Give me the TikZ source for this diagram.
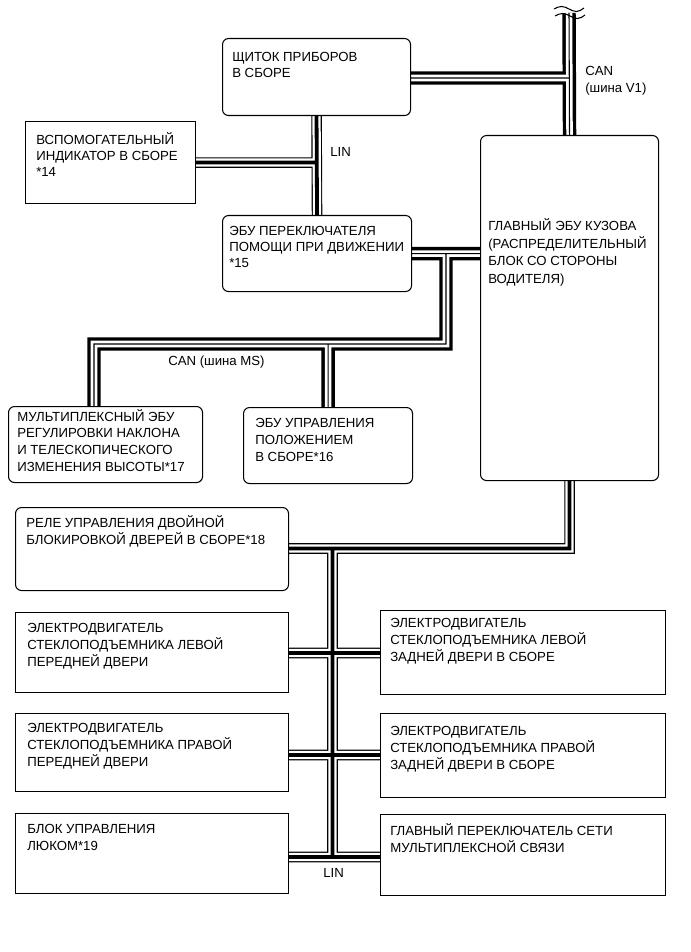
\documentclass[tikz,border=0pt]{standalone}
\usepackage{fontspec}
\setmainfont{Liberation Sans}
\usetikzlibrary{calc}
\pgfdeclarelayer{bg}
\pgfsetlayers{bg,main}
\newcommand{\boxtext}[1]{\begin{tabular}[t]{@{}l@{}}#1\end{tabular}}
\begin{document}
\begin{tikzpicture}[x=0.75pt,y=-0.75pt,
  box/.style={draw=black, line width=0.8pt, fill=white, inner sep=0pt, anchor=north west},
  rbox/.style={box, rounded corners=4.5pt},
  txt/.style={inner sep=0pt, anchor=base west, font=\fontsize{9.9pt}{#1}\selectfont},
  txt/.default=12.4pt,
  canO/.style={black, line width=10.1pt, line join=miter},
  canW/.style={white, line width=4.9pt, line join=miter},
  canC/.style={black, line width=0.8pt},
  linO/.style={black, line width=7.9pt, line join=miter},
  linW/.style={white, line width=6.2pt, line join=miter},
  linC/.style={black, line width=2.85pt, line join=miter},
  wave/.style={black, line width=0.8pt}
]
\useasboundingbox (0,0) rectangle (690,952);

% boxes
\node[rbox, minimum width=141pt,    minimum height=57.75pt] (cl)    at (222,38)  {};
\node[box,  minimum width=127.5pt,  minimum height=61.5pt]  (ind)   at (25,121)  {};
\node[rbox, minimum width=141.75pt, minimum height=57pt]    (sw)    at (222,215) {};
\node[rbox, minimum width=133.5pt,  minimum height=258.75pt](ecu)   at (480,135) {};
\node[rbox, minimum width=145.5pt,  minimum height=57pt]    (m5)    at (8,406)   {};
\node[rbox, minimum width=126.75pt, minimum height=57pt]    (pos)   at (243,407) {};
\node[rbox, minimum width=204.75pt, minimum height=62.25pt] (relay) at (15,507)  {};
\node[box,  minimum width=204.75pt, minimum height=60pt]    (w1)    at (15,612)  {};
\node[box,  minimum width=213.75pt, minimum height=63pt]    (w2)    at (380,610) {};
\node[box,  minimum width=204.75pt, minimum height=58.5pt]  (w3)    at (15,713)  {};
\node[box,  minimum width=213.75pt, minimum height=63pt]    (w4)    at (380,713) {};
\node[box,  minimum width=204.75pt, minimum height=60pt]    (w5)    at (15,813)  {};
\node[box,  minimum width=213.75pt, minimum height=60.75pt] (w6)    at (380,814) {};

% texts
\node[txt=12pt]   (clt)    at (232,62)  {\boxtext{ЩИТОК ПРИБОРОВ\\В СБОРЕ}};
\node[txt=11.7pt] (indt)   at (36,145)  {\boxtext{ВСПОМОГАТЕЛЬНЫЙ\\ИНДИКАТОР В СБОРЕ\\{}*14}};
\node[txt=11.7pt] (swt)    at (229,236) {\boxtext{ЭБУ ПЕРЕКЛЮЧАТЕЛЯ\\ПОМОЩИ ПРИ ДВИЖЕНИИ\\{}*15}};
\node[txt=13.1pt] (ecut)   at (488,231) {\boxtext{ГЛАВНЫЙ ЭБУ КУЗОВА\\(РАСПРЕДЕЛИТЕЛЬНЫЙ\\БЛОК СО СТОРОНЫ\\ВОДИТЕЛЯ)}};
\node[txt=12.5pt] (m5t)    at (17,421)  {\boxtext{МУЛЬТИПЛЕКСНЫЙ ЭБУ\\РЕГУЛИРОВКИ НАКЛОНА\\И ТЕЛЕСКОПИЧЕСКОГО\\ИЗМЕНЕНИЯ ВЫСОТЫ*17}};
\node[txt=12.75pt] (post)  at (255,427) {\boxtext{ЭБУ УПРАВЛЕНИЯ\\ПОЛОЖЕНИЕМ\\В СБОРЕ*16}};
\node[txt=13.2pt] (relayt) at (26,527)  {\boxtext{РЕЛЕ УПРАВЛЕНИЯ ДВОЙНОЙ\\БЛОКИРОВКОЙ ДВЕРЕЙ В СБОРЕ*18}};
\node[txt=13pt]   (w1t)    at (27,632)  {\boxtext{ЭЛЕКТРОДВИГАТЕЛЬ\\СТЕКЛОПОДЪЕМНИКА ЛЕВОЙ\\ПЕРЕДНЕЙ ДВЕРИ}};
\node[txt=13pt]   (w2t)    at (390,627) {\boxtext{ЭЛЕКТРОДВИГАТЕЛЬ\\СТЕКЛОПОДЪЕМНИКА ЛЕВОЙ\\ЗАДНЕЙ ДВЕРИ В СБОРЕ}};
\node[txt=13pt]   (w3t)    at (27,732)  {\boxtext{ЭЛЕКТРОДВИГАТЕЛЬ\\СТЕКЛОПОДЪЕМНИКА ПРАВОЙ\\ПЕРЕДНЕЙ ДВЕРИ}};
\node[txt=13pt]   (w4t)    at (390,735) {\boxtext{ЭЛЕКТРОДВИГАТЕЛЬ\\СТЕКЛОПОДЪЕМНИКА ПРАВОЙ\\ЗАДНЕЙ ДВЕРИ В СБОРЕ}};
\node[txt=13.2pt] (w5t)    at (27,833)  {\boxtext{БЛОК УПРАВЛЕНИЯ\\ЛЮКОМ*19}};
\node[txt=12.9pt] (w6t)    at (390,835) {\boxtext{ГЛАВНЫЙ ПЕРЕКЛЮЧАТЕЛЬ СЕТИ\\МУЛЬТИПЛЕКСНОЙ СВЯЗИ}};

% bus labels
\node[txt=12.6pt] (canv1) at (585,76)  {\boxtext{CAN\\(шина V1)}};
\node[txt] (lin1)  at (330,156.5) {LIN};
\node[txt] (canms) at (168,365) {CAN (шина MS)};
\node[txt] (lin2)  at (323,877) {LIN};

% junction coordinates
\coordinate (v1top) at (569,13);
\coordinate (v1j)   at (569,78);
\coordinate (msA)   at (446,253);
\coordinate (msB)   at (446,344);
\coordinate (msC)   at (94,344);
\coordinate (b0)    at (332.5,548.5);
\coordinate (b1)    at (332.5,653);
\coordinate (b2)    at (332.5,755);
\coordinate (b3)    at (332.5,857);

\begin{pgfonlayer}{bg}
  \fill[white] (0,0) rectangle (690,952);
  \foreach \ly in {canO,canW,canC} {
    \draw[\ly] (v1top) -- (ecu.north)
               (cl.east |- v1j) -- (v1j)
               (sw.east) -- (sw.east -| ecu.west)
               (msA) -- (msB) -- (msC) -- (msC |- m5.north)
               (pos.north |- msB) -- (pos.north);
  }
  \foreach \ly in {linO,linW,linC} {
    \draw[\ly] (cl.south) -- (sw.north)
               (ind.east) -- (ind.east -| cl.south)
               (ecu.south) -- (ecu.south |- b0) -- (relay.east |- b0)
               (b0) -- (b3)
               (w1.east |- b1) -- (w2.west |- b1)
               (w3.east |- b2) -- (w4.west |- b2)
               (w5.east |- b3) -- (w6.west |- b3);
  }
\end{pgfonlayer}

% break symbol at the free end of CAN V1
\draw[wave] (554,9) sin (561.5,6.5) cos (569,9) sin (576.5,11.5) cos (584,8);
\draw[wave] (555,16) sin (562.5,13.5) cos (570,16) sin (577.5,18.5) cos (585,15);
\end{tikzpicture}
\end{document}
